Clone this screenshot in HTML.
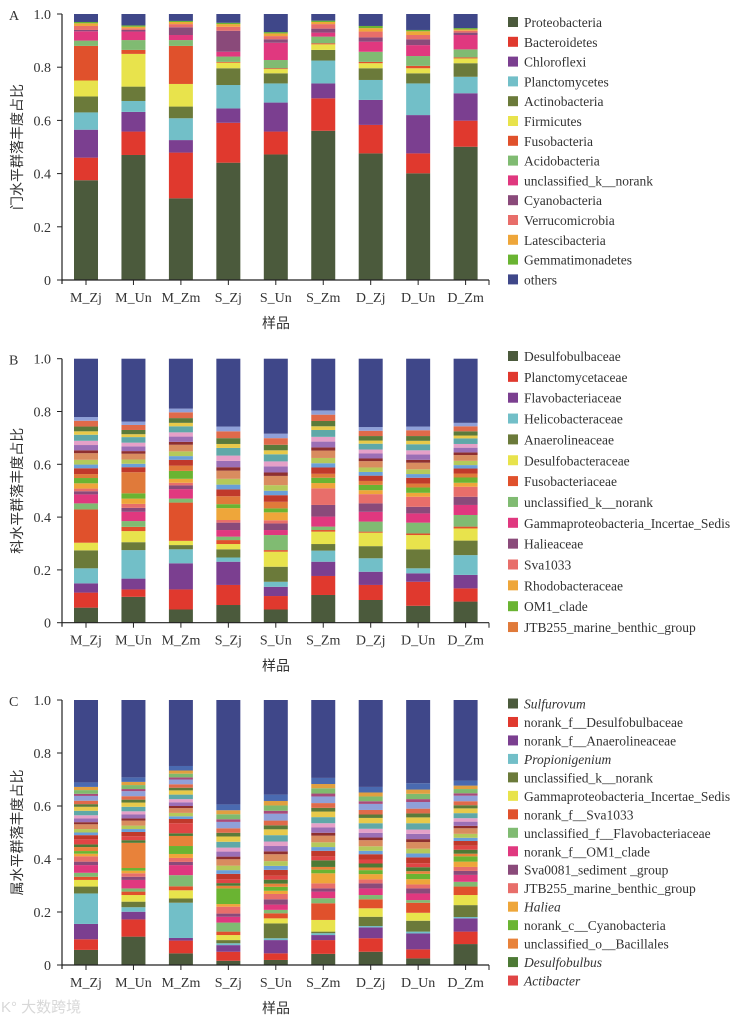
<!DOCTYPE html>
<html><head><meta charset="utf-8"><style>
html,body{margin:0;padding:0;background:#fff;}
svg{display:block;font-family:"Liberation Serif","Noto Serif CJK SC",serif;}
</style></head><body>
<svg id="chart" width="750" height="1021" viewBox="0 0 750 1021" xmlns="http://www.w3.org/2000/svg">
<text x="1" y="1012" font-size="15" fill="#d8d8d8" font-family="Liberation Sans, Noto Sans CJK SC, sans-serif">K° 大数跨境</text>
</svg>
<script>
const samples = ["M_Zj","M_Un","M_Zm","S_Zj","S_Un","S_Zm","D_Zj","D_Un","D_Zm"];
const yTicks = [0,0.2,0.4,0.6,0.8,1.0];
const yTickLabels = ["0","0.2","0.4","0.6","0.8","1.0"];

const phylaNames = ["Proteobacteria","Bacteroidetes","Chloroflexi","Planctomycetes","Actinobacteria","Firmicutes","Fusobacteria","Acidobacteria","unclassified_k__norank","Cyanobacteria","Verrucomicrobia","Latescibacteria","Gemmatimonadetes","others"];
const phylaValues = [
 [.375,.47,.307,.441,.472,.561,.476,.401,.501],
 [.085,.088,.172,.15,.086,.122,.107,.075,.098],
 [.105,.074,.047,.054,.109,.056,.094,.144,.103],
 [.065,.041,.082,.088,.072,.086,.075,.119,.062],
 [.06,.054,.044,.063,.038,.04,.044,.038,.051],
 [.06,.123,.085,.021,.016,.021,.019,.019,.018],
 [.13,.015,.143,.003,.003,.004,.005,.009,.004],
 [.02,.037,.022,.02,.031,.025,.038,.037,.03],
 [.035,.032,.019,.018,.065,.015,.038,.041,.054],
 [.005,.006,.029,.079,.013,.015,.016,.022,.009],
 [.015,.006,.012,.015,.012,.017,.022,.016,.007],
 [.01,.006,.008,.01,.01,.008,.013,.014,.005],
 [.005,.005,.004,.005,.005,.005,.008,.005,.005]
];
const phylaColors = ["#4b5a3c","#e0392e","#7b3f90","#72bfc8","#6b7a3a","#e8e34c","#e0512c","#80bb72","#e0387f","#8a4a7a","#e86e6a","#eea63a","#6ab432","#3f4789"];

const famNames = ["Desulfobulbaceae","Planctomycetaceae","Flavobacteriaceae","Helicobacteraceae","Anaerolineaceae","Desulfobacteraceae","Fusobacteriaceae","unclassified_k__norank","Gammaproteobacteria_Incertae_Sedis","Halieaceae","Sva1033","Rhodobacteraceae","OM1_clade","JTB255_marine_benthic_group"];
const famValues = [
 [.057,.098,.05,.067,.05,.105,.086,.064,.08],
 [.057,.028,.076,.076,.051,.072,.057,.091,.05],
 [.035,.041,.099,.088,.035,.054,.05,.032,.051],
 [.057,.108,.053,.016,.019,.042,.051,.019,.075],
 [.068,.03,.016,.031,.057,.025,.046,.072,.055],
 [.029,.042,.016,.02,.057,.047,.051,.054,.046],
 [.126,.016,.145,.015,.006,.006,.004,.006,.007],
 [.023,.022,.015,.013,.057,.013,.038,.041,.044],
 [.034,.035,.036,.025,.019,.038,.037,.035,.038],
 [.012,.015,.014,.028,.025,.044,.032,.025,.031],
 [.01,.015,.01,.01,.012,.063,.035,.038,.038],
 [.02,.02,.015,.045,.03,.02,.015,.015,.015],
 [.02,.02,.03,.015,.015,.02,.02,.02,.02],
 [.015,.08,.02,.03,.025,.015,.015,.015,.015]
];
const famColors = ["#4b5a3c","#e0392e","#7b3f90","#72bfc8","#6b7a3a","#e8e34c","#e0512c","#80bb72","#e0387f","#8a4a7a","#e86e6a","#eea63a","#6ab432","#e07a3a"];
const famMinor = [
 [.022,.019,.022,.026,.025,.024,.020,.022,.019],
 [.014,.013,.014,.018,.017,.016,.014,.014,.013],
 [.018,.016,.018,.022,.021,.020,.017,.018,.016],
 [.025,.022,.025,.031,.035,.028,.024,.025,.022],
 [.011,.010,.011,.013,.013,.012,.010,.011,.010],
 [.020,.018,.020,.024,.023,.022,.019,.020,.018],
 [.016,.014,.016,.020,.019,.018,.015,.016,.014],
 [.023,.021,.023,.029,.027,.026,.022,.023,.021],
 [.013,.011,.013,.015,.015,.014,.012,.013,.011],
 [.018,.016,.018,.022,.021,.020,.017,.018,.016],
 [.022,.019,.022,.026,.025,.024,.020,.022,.019],
 [.014,.013,.014,.018,.017,.016,.014,.014,.013]
];

const genNames = ["Sulfurovum","norank_f__Desulfobulbaceae","norank_f__Anaerolineaceae","Propionigenium","unclassified_k__norank","Gammaproteobacteria_Incertae_Sedis","norank_f__Sva1033","unclassified_f__Flavobacteriaceae","norank_f__OM1_clade","Sva0081_sediment _group","JTB255_marine_benthic_group","Haliea","norank_c__Cyanobacteria","unclassified_o__Bacillales","Desulfobulbus","Actibacter"];
const genItalic = [true,false,false,true,false,false,false,false,false,false,false,true,false,false,true,true];
const genValues = [
 [.057,.107,.044,.016,.019,.042,.05,.025,.079],
 [.04,.065,.048,.034,.025,.052,.051,.034,.047],
 [.058,.029,.01,.025,.05,.019,.041,.06,.05],
 [.115,.017,.133,.007,.007,.007,.005,.007,.005],
 [.026,.021,.016,.012,.056,.006,.035,.041,.045],
 [.025,.025,.031,.019,.019,.044,.032,.03,.038],
 [.012,.013,.015,.013,.019,.063,.034,.038,.032],
 [.015,.012,.042,.034,.013,.019,.016,.01,.018],
 [.029,.032,.038,.022,.02,.025,.025,.025,.026],
 [.013,.012,.012,.012,.02,.012,.019,.019,.015],
 [.02,.013,.015,.026,.02,.019,.015,.015,.015],
 [.01,.01,.015,.01,.012,.038,.02,.02,.02],
 [.01,.01,.03,.059,.015,.014,.015,.02,.02],
 [.015,.095,.038,.01,.012,.01,.01,.01,.01],
 [.01,.01,.01,.01,.015,.025,.015,.015,.015],
 [.02,.015,.038,.015,.015,.015,.015,.015,.015]
];
const genColors = ["#4b5a3c","#e0392e","#7b3f90","#72bfc8","#6b7a3a","#e8e34c","#e0512c","#80bb72","#e0387f","#8a4a7a","#e86e6a","#eea63a","#6ab432","#e8823a","#4d7a35","#e04545"];
const genMinor = [
 [.015,.016,.016,.020,.022,.021,.020,.022,.018],
 [.010,.011,.010,.014,.015,.014,.013,.015,.012],
 [.013,.013,.013,.017,.018,.018,.017,.018,.015],
 [.018,.019,.018,.024,.026,.025,.023,.025,.021],
 [.008,.008,.008,.010,.011,.011,.010,.011,.009],
 [.014,.015,.014,.019,.020,.020,.018,.020,.016],
 [.012,.012,.012,.015,.017,.016,.015,.016,.013],
 [.017,.017,.017,.022,.024,.023,.021,.024,.019],
 [.015,.016,.016,.020,.022,.021,.020,.022,.018],
 [.010,.011,.010,.014,.015,.014,.013,.015,.012],
 [.013,.013,.013,.017,.018,.018,.017,.018,.015],
 [.018,.019,.018,.024,.026,.025,.023,.025,.021],
 [.008,.008,.008,.010,.011,.011,.010,.011,.009],
 [.014,.015,.014,.019,.020,.020,.018,.020,.016],
 [.012,.012,.012,.015,.017,.016,.015,.016,.013],
 [.017,.017,.017,.022,.024,.023,.021,.024,.019]
];
const minorColors = ["#c0392b","#6a9fd8","#b5c95a","#d98c5f","#8e2f2f","#9b6fb6","#e5a0c8","#5fa8a8","#e8c94a","#5b7a3a","#e06a4a","#8fa0d8","#a84a7a","#7fba6e","#e0a040","#4a6ab0"];
const othersColor = "#3f4789";

const NS = "http://www.w3.org/2000/svg";
const svg = document.getElementById("chart");
function mk(tag, attrs, parent){ const e=document.createElementNS(NS,tag); for(const k in attrs) e.setAttribute(k,attrs[k]); (parent||svg).appendChild(e); return e; }

const X0 = 62, X1 = 489, barW = 24;
function xCenter(i){ return 86 + i*47.45; }

function drawPanel(p){
  const g = mk("g",{});
  
  
  const yS = v => p.bottom - v*(p.bottom-p.top);
  // bars
  samples.forEach((s,i)=>{
    let cum = 0;
    const layers = [];
    p.values.forEach((row,k)=>layers.push({v:row[i],c:p.colors[k],n:p.names[k]}));
    if(p.minor) p.minor.forEach((row,k)=>layers.push({v:row[i],c:minorColors[k%minorColors.length],n:'minor-taxon-'+(k+1)}));
    layers.forEach(L=>{
      const r = mk("rect",{x:xCenter(i)-barW/2,y:yS(cum+L.v),width:barW,height:Math.max(0,yS(cum)-yS(cum+L.v)),fill:L.c},g);
      
      
      cum += L.v;
    });
    if(cum<1){
      const r = mk("rect",{x:xCenter(i)-barW/2,y:yS(1),width:barW,height:yS(cum)-yS(1),fill:othersColor},g);
      
      
    }
  });
  // axes
  const ya = mk("line",{x1:X0,y1:p.top,x2:X0,y2:p.bottom+4,stroke:"#222","stroke-width":1.2},g);
  
  
  const xa = mk("line",{x1:X0,y1:p.bottom,x2:X1,y2:p.bottom,stroke:"#222","stroke-width":1.2},g);
  
  
  mk("line",{x1:X1,y1:p.bottom,x2:X1,y2:p.bottom+5,stroke:"#222","stroke-width":1},g);
  yTicks.forEach((t,j)=>{
    mk("line",{x1:X0-5,y1:yS(t),x2:X0,y2:yS(t),stroke:"#222","stroke-width":1},g);
    const tx = mk("text",{x:51,y:yS(t)+5,"text-anchor":"end","font-size":14,fill:"#333"},g);
    tx.textContent = yTickLabels[j];
    
    
  });
  samples.forEach((s,i)=>{
    mk("line",{x1:xCenter(i),y1:p.bottom,x2:xCenter(i),y2:p.bottom+5,stroke:"#222","stroke-width":1},g);
    const tx = mk("text",{x:xCenter(i),y:p.bottom+22,"text-anchor":"middle","font-size":14,fill:"#333"},g);
    tx.textContent = s;
    
    
  });
  const xt = mk("text",{x:276,y:p.bottom+48,"text-anchor":"middle","font-size":14,fill:"#333","font-family":"Liberation Sans, Noto Sans CJK SC, sans-serif"},g);
  xt.textContent = "样品";
  
  
  const cy = (p.top+p.bottom)/2;
  const yt = mk("text",{x:0,y:0,"text-anchor":"middle","font-size":14,fill:"#333","font-family":"Liberation Sans, Noto Sans CJK SC, sans-serif",transform:"translate(22,"+cy+") rotate(-90)"},g);
  yt.textContent = p.ytitle;
  
  
  const lt = mk("text",{x:9,y:p.top+6,"font-size":14,fill:"#333"},g);
  lt.textContent = p.letter;
  
  
  // legend
  const legNames = p.legendNames, legColors = p.legendColors;
  legNames.forEach((n,k)=>{
    const y = p.legTop + k*p.legStep;
    const e = mk("g",{},g);
    
    
    mk("rect",{x:508,y:y-5,width:10,height:10,fill:legColors[k]},e);
    const t = mk("text",{x:524,y:y+5,"font-size":13.5,fill:"#333"},e);
    if(p.italic && p.italic[k]) t.setAttribute("font-style","italic");
    t.textContent = n;
  });
}

drawPanel({key:"phylum",letter:"A",top:14,bottom:280,values:phylaValues,colors:phylaColors,names:phylaNames,minor:null,ytitle:"门水平群落丰度占比",legendNames:phylaNames,legendColors:phylaColors,legTop:22,legStep:19.8});
drawPanel({key:"family",letter:"B",top:358.7,bottom:622.7,values:famValues,colors:famColors,names:famNames,minor:famMinor,ytitle:"科水平群落丰度占比",legendNames:famNames,legendColors:famColors,legTop:356,legStep:20.85});
drawPanel({key:"genus",letter:"C",top:700,bottom:965,values:genValues,colors:genColors,names:genNames,minor:genMinor,ytitle:"属水平群落丰度占比",legendNames:genNames,legendColors:genColors,italic:genItalic,legTop:703.5,legStep:18.47});
</script>
</body></html>
